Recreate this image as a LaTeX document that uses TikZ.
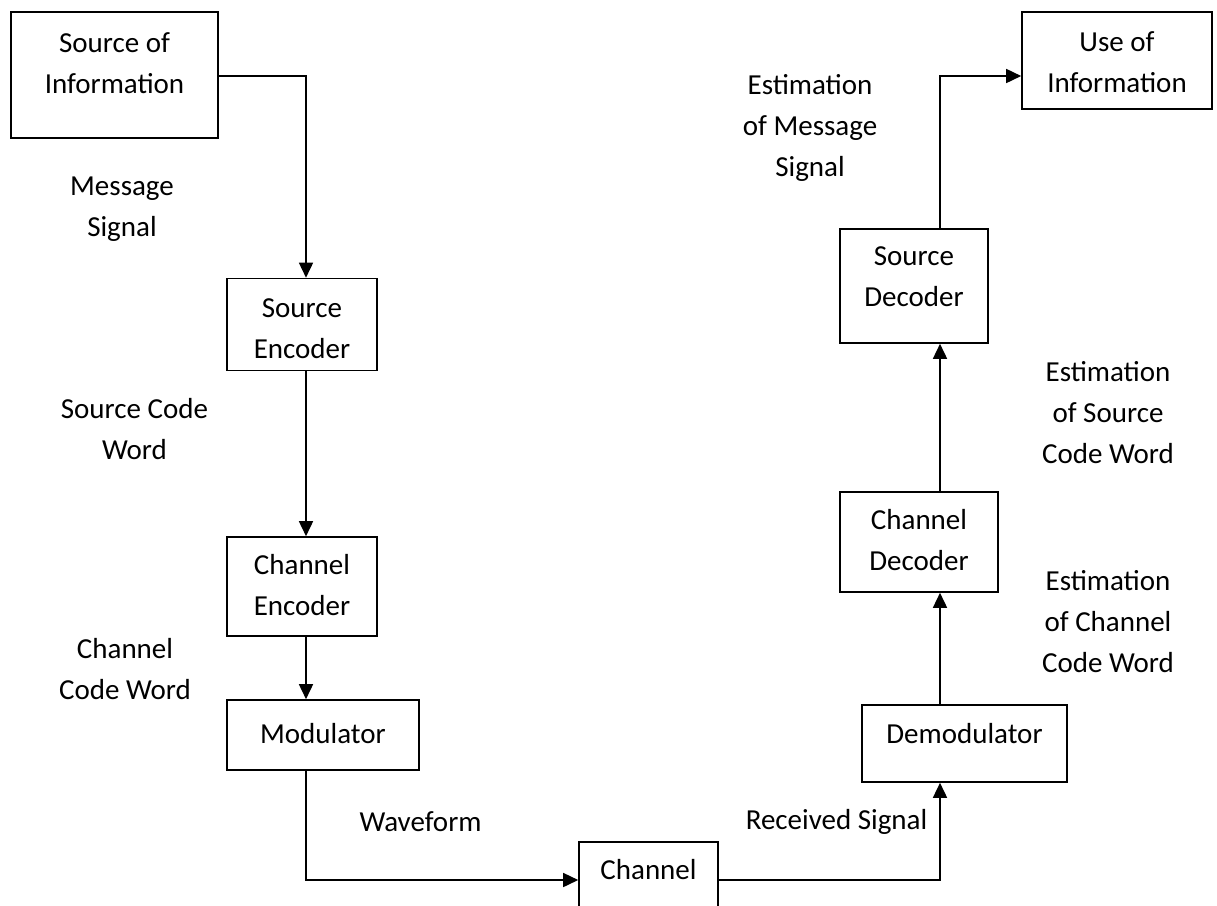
\documentclass[tikz,border=0pt]{standalone}
\usepackage{fontspec}
\setmainfont{Carlito}
\usetikzlibrary{arrows.meta}
\newcommand\dgfont{\fontsize{29}{41}\selectfont}
\newcommand\extradp[1]{\vrule width0pt height0pt depth\dimexpr0.3\baselineskip+#1\relax}
\newcommand\extraht[1]{\vrule width0pt depth0pt height\dimexpr0.7\baselineskip+#1\relax}
\begin{document}
\begin{tikzpicture}[x=1pt,y=-1pt,
  box/.style={draw, line width=1.6pt, inner sep=0pt, align=center, font=\dgfont},
  lab/.style={inner sep=0pt, align=center, font=\dgfont},
  arr/.style={line width=1.6pt, -{Triangle[length=15pt,width=14pt]}}]
\useasboundingbox (0,0) rectangle (1217,905);
\coordinate (lc) at (306,0);
\coordinate (rc) at (940,0);
\coordinate (toprow) at (0,76);
\coordinate (botrow) at (0,880);
% boxes
\node[box, minimum width=207pt, minimum height=126pt] (src) at (114.5,75) {\strut Source of\\\strut Information\extradp{20pt}};
\node[box, minimum width=190pt, minimum height=97pt] (use) at (1117,60.5) {\extraht{6pt}Use of\\\strut Information};
\node[box, minimum width=150pt, minimum height=91pt] (senc) at (302,324.5) {\extraht{10pt}Source\\\strut Encoder};
\node[box, minimum width=150pt, minimum height=99pt] (cenc) at (302,586.5) {\strut Channel\\\strut Encoder};
\node[box, minimum width=192pt, minimum height=70pt] (mod) at (323,735) {\strut Modulator};
\node[box, minimum width=139pt, minimum height=73pt] (chan) at (648.5,878.5) {\strut Channel\extradp{14pt}};
\node[box, minimum width=205pt, minimum height=77pt] (demod) at (964.5,743.5) {\strut Demodulator\extradp{17pt}};
\node[box, minimum width=158pt, minimum height=100pt] (cdec) at (919,542) {\strut Channel\\\strut Decoder};
\node[box, minimum width=148pt, minimum height=114pt] (sdec) at (914,286) {\strut Source\\\strut Decoder\extradp{16pt}};
% labels
\node[lab] (msg) at (122,208) {\strut Message\\\strut Signal};
\node[lab] (scw) at (134.5,431) {\strut Source Code\\\strut Word};
\node[lab] (ccw) at (125,671) {\strut Channel\\\strut Code Word};
\node[lab] (wave) at (420.5,823) {\strut Waveform};
\node[lab] (recv) at (836.5,821) {\strut Received Signal};
\node[lab] (eccw) at (1108,623) {\strut Estimation\\\strut of Channel\\\strut Code Word};
\node[lab] (escw) at (1108,414) {\strut Estimation\\\strut of Source\\\strut Code Word};
\node[lab] (emsg) at (810,127) {\strut Estimation\\\strut of Message\\\strut Signal};
% connectors
\draw[arr] (src.east |- toprow) -| (senc.north -| lc);
\draw[arr] (senc.south -| lc) -- (cenc.north -| lc);
\draw[arr] (cenc.south -| lc) -- (mod.north -| lc);
\draw[arr] (mod.south -| lc) |- (chan.west |- botrow);
\draw[arr] (chan.east |- botrow) -| (demod.south -| rc);
\draw[arr] (demod.north -| rc) -- (cdec.south -| rc);
\draw[arr] (cdec.north -| rc) -- (sdec.south -| rc);
\draw[arr] (sdec.north -| rc) |- (use.west |- toprow);
\end{tikzpicture}
\end{document}
